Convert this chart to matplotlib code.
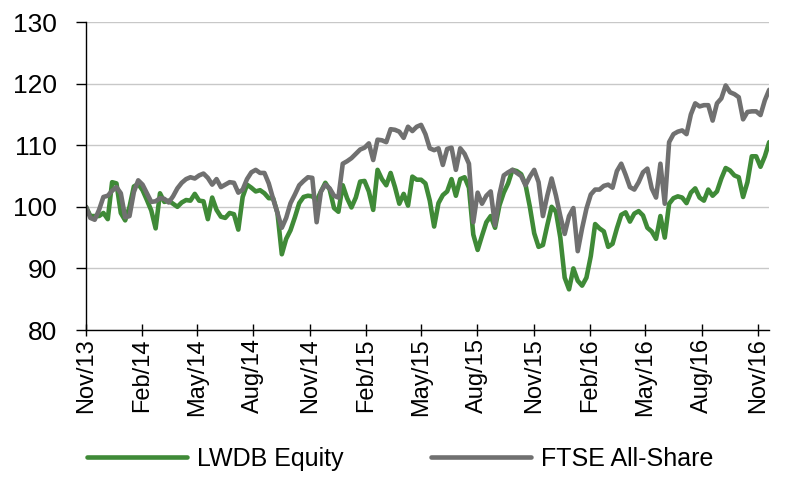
import pandas as pd
import matplotlib.pyplot as plt
import matplotlib.dates as mdates

plt.rcParams['font.family'] = ['Liberation Sans Narrow', 'Liberation Sans', 'DejaVu Sans']

# weekly readings, Nov 2013 - Nov 2016 (rebased to 100)
start_date = '2013-11-01'
end_date = '2016-11-19'

lwdb = [100, 98.5, 98.5, 98.5, 99, 98, 104, 103.8, 99, 97.8,
        100, 103.3, 103.7, 102.7, 101.1, 99.4, 96.5, 102.2, 100.8, 101,
        100.5, 100, 100.7, 101.1, 101, 102.1, 101, 100.9, 98, 101.5,
        99.5, 98.4, 98.2, 99, 98.8, 96.3, 101.6, 103.6, 103.1, 102.5,
        102.7, 102.2, 101.4, 101.4, 99, 92.3, 94.8, 96.2, 98.3, 100.6,
        101.6, 101.8, 101.7, 101, 102.5, 103.9, 102.8, 99.8, 99.2, 103.5,
        101.4, 99.9, 101.5, 104.1, 104.2, 102.5, 99.5, 106, 104.5, 103.5,
        105.5, 103.2, 100.5, 102.1, 100.2, 104.9, 104.4, 104.4, 103.8, 101,
        96.8, 100.6, 101.9, 102.5, 104.5, 101.8, 104.5, 104.8, 103.1, 95.5,
        93, 95.3, 97.5, 98.5, 96.6, 100.2, 102.3, 103.8, 106, 105.8,
        105.3, 103.6, 100, 95.7, 93.5, 93.8, 97, 100, 99.2, 95,
        88.5, 86.6, 90, 88, 87.2, 88.5, 92, 97.2, 96.5, 96,
        93.5, 94, 96.5, 98.7, 99.1, 97.6, 98.9, 99.3, 98.6, 96.6,
        96, 94.8, 98.5, 95, 100.5, 101.4, 101.7, 101.5, 100.6, 102.3,
        103, 101.5, 101, 102.8, 101.8, 102.5, 104.6, 106.3, 105.9, 105.1,
        104.8, 101.6, 104, 108.2, 108.2, 106.5, 108.2, 110.5]

ftse = [100, 98.2, 97.9, 99.5, 101.6, 101.8, 102.6, 103.2, 102.2, 98.3,
        98.5, 102.4, 104.3, 103.6, 102.2, 100.8, 100.9, 101.4, 101.3, 100.7,
        101.7, 103, 103.9, 104.5, 104.8, 104.6, 105.1, 105.4, 104.7, 103.6,
        104.5, 103.2, 103.6, 104, 103.9, 102.3, 102.8, 104.5, 105.6, 106,
        105.5, 105.5, 103.8, 101.3, 99, 96.6, 98.2, 100.6, 102, 103.5,
        104.2, 104.8, 104.7, 97.5, 102.5, 103.6, 103, 101.8, 101.5, 107,
        107.4, 107.9, 108.6, 109.3, 109.6, 110.3, 107.6, 110.9, 110.8, 110.5,
        112.6, 112.5, 112.2, 111.2, 113, 112.3, 113, 113.3, 111.8, 109.5,
        109.2, 109.5, 106.8, 109.4, 109.6, 106, 109.5, 108.6, 107, 97.5,
        102.3, 100.5, 101.8, 102.5, 97, 102, 105.1, 105.6, 106, 105.5,
        105, 103.5, 104.9, 106, 104, 98.5, 101.8, 104.6, 101.8, 98.5,
        95.6, 98.5, 99.8, 92.8, 96.5, 99.7, 102, 102.8, 102.8, 103.4,
        103.6, 103.1, 105.8, 107, 105.2, 103.2, 102.8, 104, 105.6, 106.2,
        103, 101.5, 107, 100.5, 110.5, 111.8, 112.2, 112.4, 111.8, 115,
        116.8, 116.3, 116.5, 116.5, 114, 116.8, 117.6, 119.7, 118.6, 118.3,
        117.8, 114.2, 115.4, 115.5, 115.5, 114.9, 117.3, 119]

dates = pd.date_range(start_date, end_date, periods=len(lwdb))
tick_dates = pd.date_range('2013-11-01', '2016-11-01', freq='3MS')

fig = plt.figure(figsize=(8, 4.95), dpi=100)
ax = fig.add_axes([0.1075, 0.3333, 0.854, 0.6222])

ax.plot(dates, lwdb, color='#3f8a37', lw=3.3, label='LWDB Equity',
        solid_joinstyle='round', solid_capstyle='round')
ax.plot(dates, ftse, color='#707070', lw=3.3, label='FTSE All-Share',
        solid_joinstyle='round', solid_capstyle='round')

ax.set_ylim(80, 130)
ax.set_yticks(range(80, 131, 10))
ax.set_xlim(dates[0], dates[-1])
ax.set_xticks(tick_dates)
ax.xaxis.set_major_formatter(mdates.DateFormatter('%b/%y'))

ax.grid(axis='y', color='#c8c8c8', lw=1)
ax.set_axisbelow(True)
for s in ['top', 'right']:
    ax.spines[s].set_visible(False)
for s in ['left', 'bottom']:
    ax.spines[s].set_color('black')
    ax.spines[s].set_linewidth(1)

ax.tick_params(axis='y', direction='out', length=7, width=1, pad=14, labelsize=19)
ax.tick_params(axis='x', direction='inout', length=8, width=1, pad=2, labelsize=17,
               labelrotation=90)

fig.legend(loc='center', bbox_to_anchor=(0.5, 0.073), ncol=2, frameon=False,
           fontsize=18, handlelength=4.0, handletextpad=0.4, columnspacing=3.5)

fig.savefig('out.png', dpi=100)
